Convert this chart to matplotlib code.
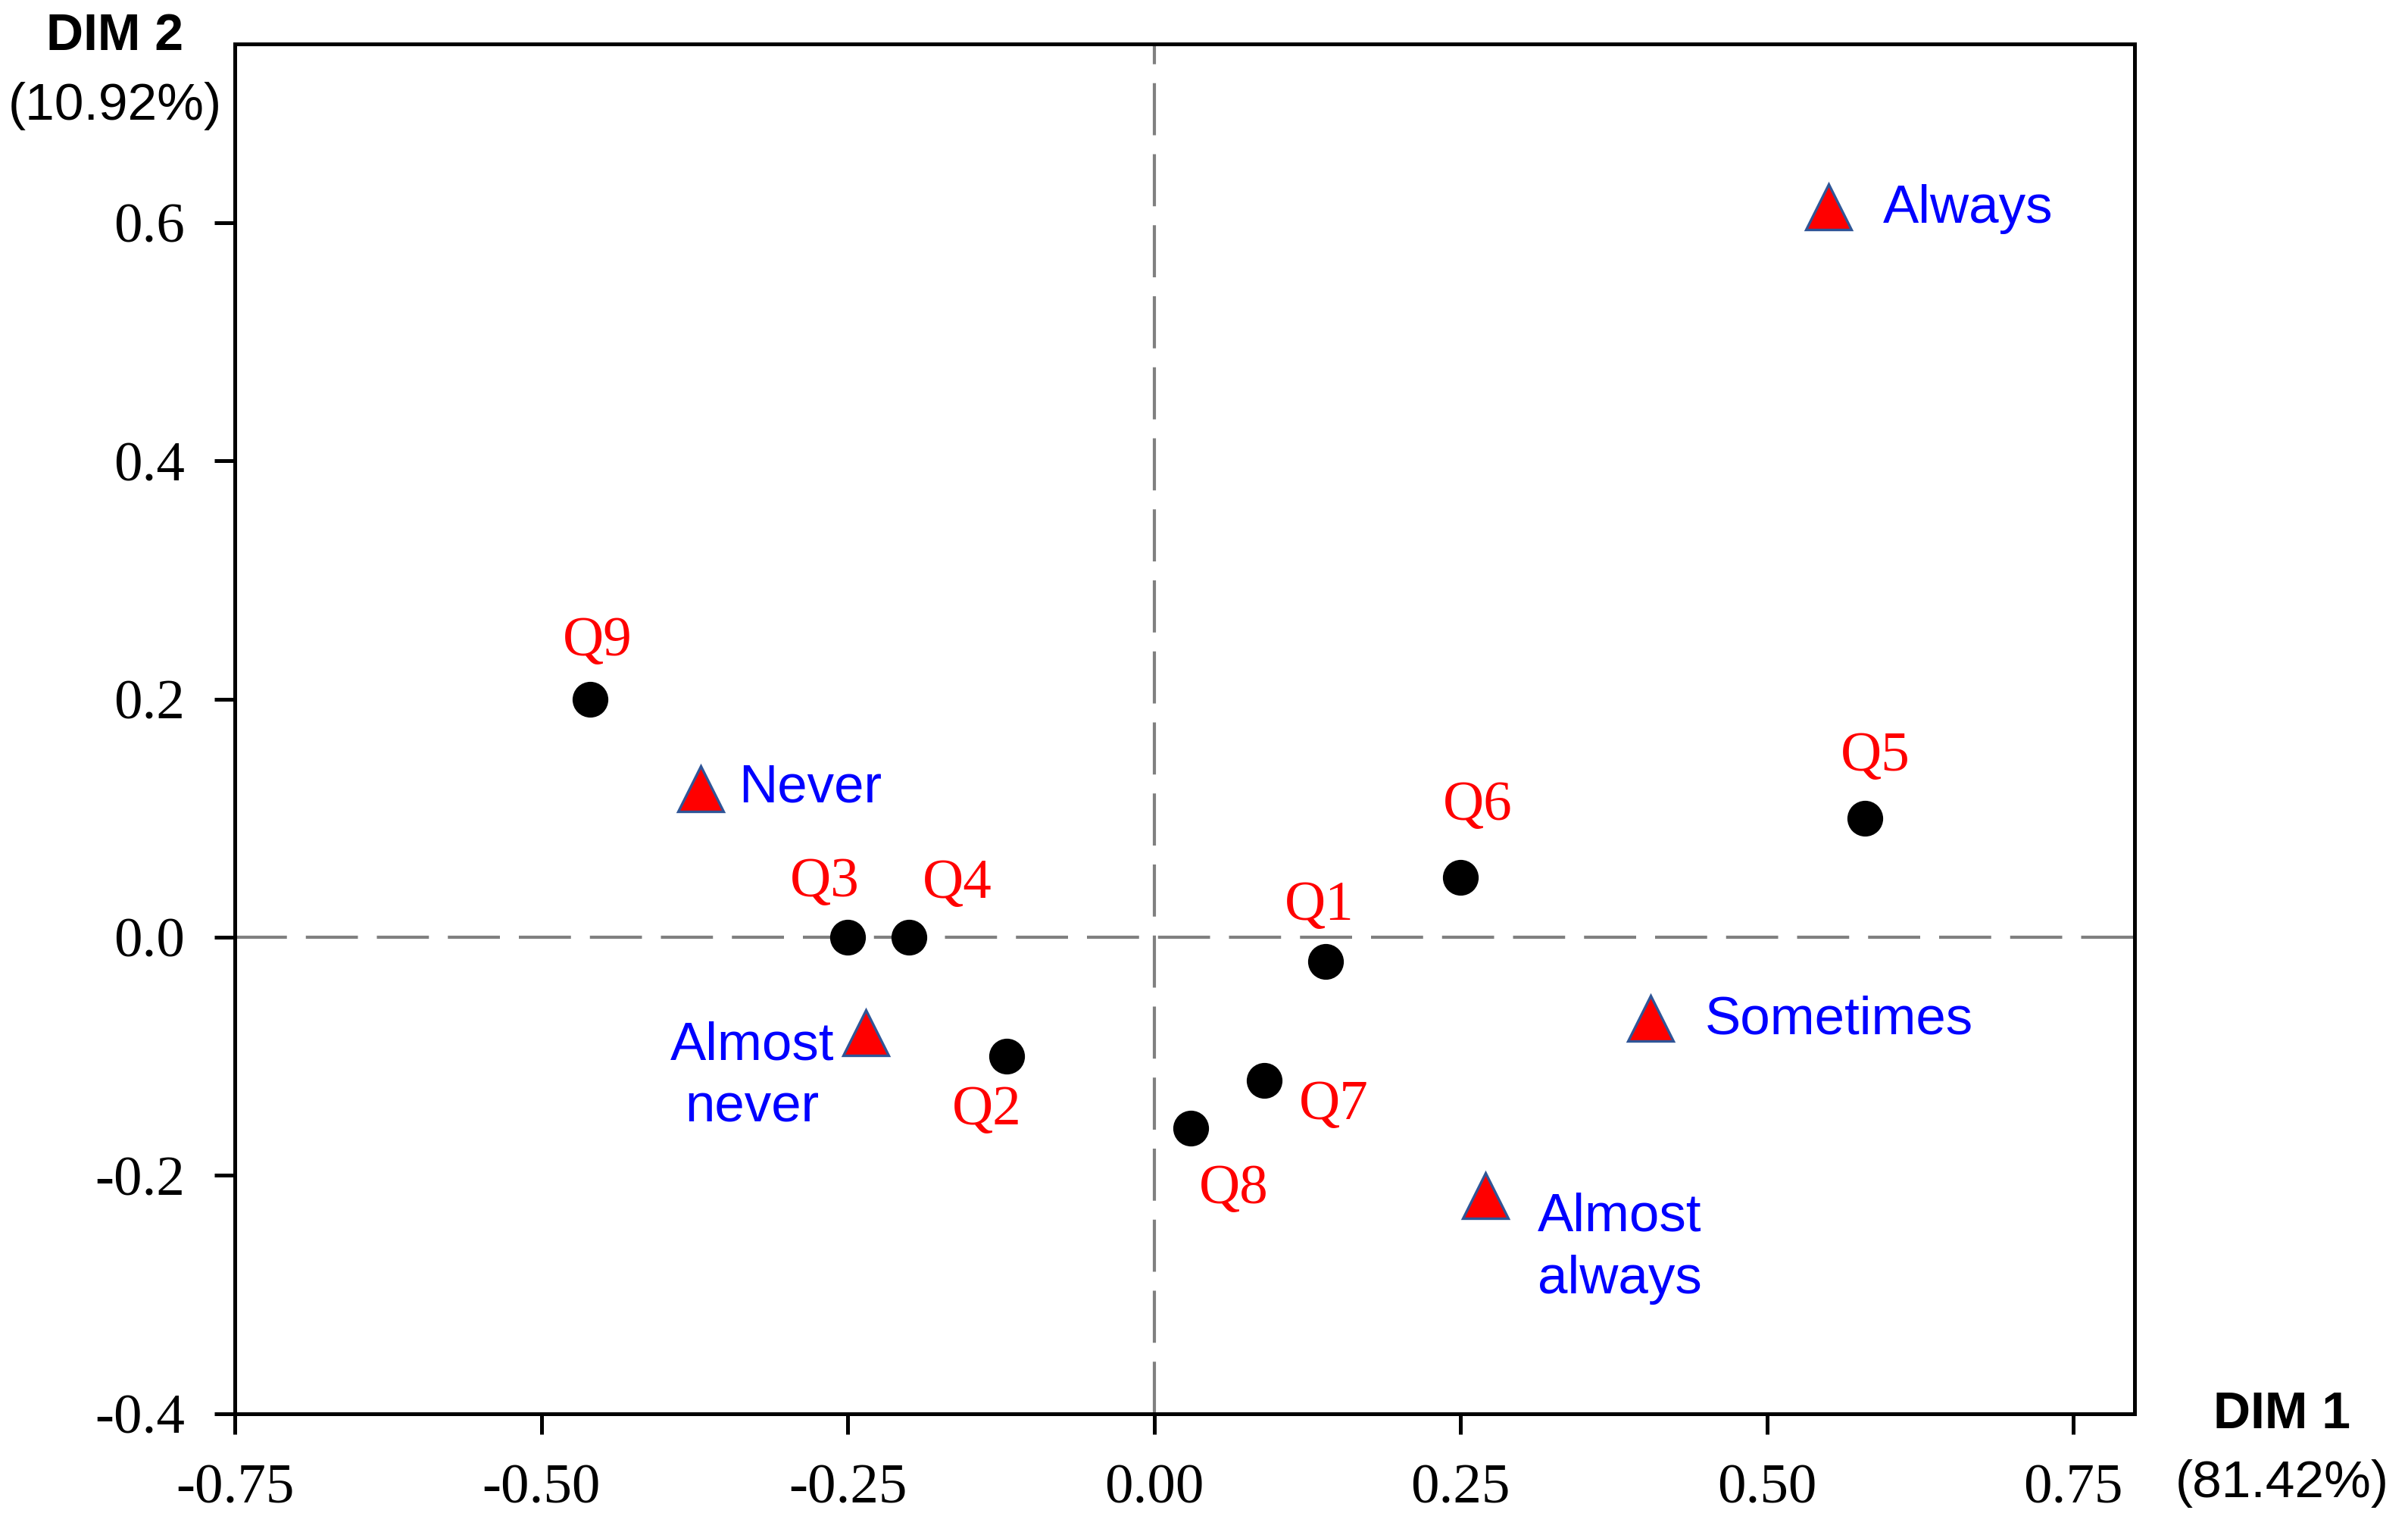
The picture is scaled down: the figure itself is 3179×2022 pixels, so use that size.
import matplotlib
matplotlib.use("Agg")
import matplotlib.pyplot as plt

# Question points (black dots)
questions = ["Q1", "Q2", "Q3", "Q4", "Q5", "Q6", "Q7", "Q8", "Q9"]
q_dim1 = [0.14, -0.12, -0.25, -0.20, 0.58, 0.25, 0.09, 0.03, -0.46]
q_dim2 = [-0.02, -0.10, 0.00, 0.00, 0.10, 0.05, -0.12, -0.16, 0.20]

# Answer categories (red triangles)
answers = ["Always", "Never", "Almost\nnever", "Sometimes", "Almost\nalways"]
a_dim1 = [0.55, -0.37, -0.235, 0.405, 0.27]
a_dim2 = [0.613, 0.125, -0.08, -0.068, -0.217]

xticks = [-0.75, -0.50, -0.25, 0.00, 0.25, 0.50, 0.75]
yticks = [-0.4, -0.2, 0.0, 0.2, 0.4, 0.6]

# label offsets in points
q_offsets = [(-3, 26), (-9.5, -26), (-11, 26), (23, 25), (5, 29),
             (8, 34), (33, -12), (20.5, -29.5), (3.6, 27)]
a_offsets = [(26, -1), (18, 0), (-54, -21), (26, -1), (64, -25)]
a_align = ["left", "left", "center", "left", "center"]

serif = ["Liberation Serif", "DejaVu Serif"]
sans = ["Liberation Sans", "DejaVu Sans"]

fig = plt.figure(figsize=(3179 / 200, 2022 / 200), dpi=200)
ax = fig.add_axes([0.0975, 0.0772, 0.8865 - 0.0975, 0.9713 - 0.0772])

ax.axhline(0, color="#808080", lw=1.5, dashes=(16.5, 6), zorder=1)
ax.axvline(0, color="#808080", lw=1.5, dashes=(16.5, 6), zorder=1)

ax.plot(q_dim1, q_dim2, "o", color="black", markersize=16, zorder=3)
ax.plot(a_dim1, a_dim2, "^", markerfacecolor="red", markeredgecolor="#2F5597",
        markeredgewidth=1.2, markersize=21.5, linestyle="none", zorder=3)

for name, x, y, off in zip(questions, q_dim1, q_dim2, q_offsets):
    ax.annotate(name, (x, y), xytext=off, textcoords="offset points",
                ha="center", va="center", color="red", fontsize=27, family=serif)

for name, x, y, off, ha in zip(answers, a_dim1, a_dim2, a_offsets, a_align):
    ax.annotate(name, (x, y), xytext=off, textcoords="offset points",
                ha=ha, va="center", color="blue", fontsize=25.5, family=sans,
                linespacing=1.32, multialignment="center")

ax.set_xlim(-0.75, 0.80)
ax.set_ylim(-0.4, 0.75)
ax.set_xticks(xticks)
ax.set_xticklabels([f"{v:.2f}" for v in xticks])
ax.set_yticks(yticks)
ax.set_yticklabels([f"{v:.1f}" for v in yticks])

for lab in ax.get_xticklabels() + ax.get_yticklabels():
    lab.set_family(serif)
    lab.set_fontsize(27)

ax.tick_params(direction="out", length=9.7, width=1.8, pad=14, colors="black")
for sp in ax.spines.values():
    sp.set_linewidth(1.8)

# axis titles
fig.text(152 / 3179, 1 - 48 / 2022, "DIM 2", ha="center", va="center",
         fontsize=24.5, fontweight="bold", family=sans)
fig.text(152 / 3179, 1 - 140 / 2022, "(10.92%)", ha="center", va="center",
         fontsize=25, family=sans)
fig.text(3012 / 3179, 1 - 1867 / 2022, "DIM 1", ha="center", va="center",
         fontsize=24.5, fontweight="bold", family=sans)
fig.text(3013 / 3179, 1 - 1958 / 2022, "(81.42%)", ha="center", va="center",
         fontsize=25, family=sans)

fig.savefig("out.png", dpi=200)
